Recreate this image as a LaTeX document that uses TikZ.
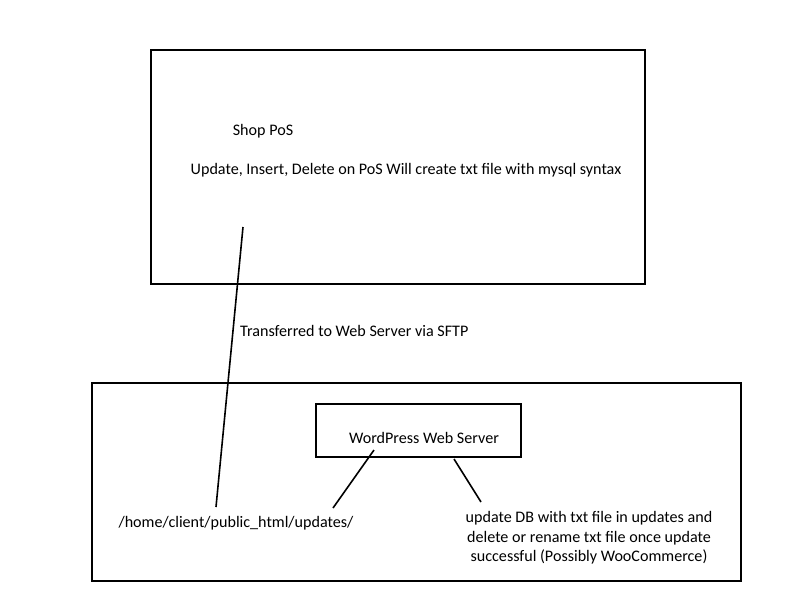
\documentclass[tikz,border=0pt]{standalone}
\usepackage{fontspec}
\setmainfont{Carlito}
\begin{document}
\begin{tikzpicture}[x=1pt,y=-1pt,
  frame/.style={draw,line width=1.6pt,inner sep=0pt},
  lbl/.style={font=\fontsize{16.1}{19}\selectfont,inner sep=0pt},
  conn/.style={line width=1.6pt}]
\useasboundingbox (0,0) rectangle (800,600);
\draw[frame] (151,50) rectangle (645,284);
\draw[frame] (92,383) rectangle (741,581);
\draw[frame] (316,404) rectangle (521,457);
\node[lbl] (shop) at (263,131) {Shop PoS};
\node[lbl] (desc) at (406,170) {Update, Insert, Delete on PoS Will create txt file with mysql syntax};
\node[lbl,anchor=west] (sftp) at (240,331) {Transferred to Web Server via SFTP};
\node[lbl] (wp) at (424,438) {WordPress Web Server};
\node[lbl] (path) at (236,523) {/home/client/public\_html/updates/};
\node[lbl,align=center,font=\fontsize{16.1}{19.5}\selectfont] (upd) at (589,538) {update DB with txt file in updates and\\delete or rename txt file once update\\successful (Possibly WooCommerce)};
\coordinate (a1) at (243,227);
\coordinate (a2) at (216,507);
\coordinate (b1) at (374,450);
\coordinate (b2) at (333,508);
\coordinate (c1) at (454,459);
\coordinate (c2) at (481,502);
\draw[conn] (a1) -- (a2);
\draw[conn] (b1) -- (b2);
\draw[conn] (c1) -- (c2);
\end{tikzpicture}
\end{document}
